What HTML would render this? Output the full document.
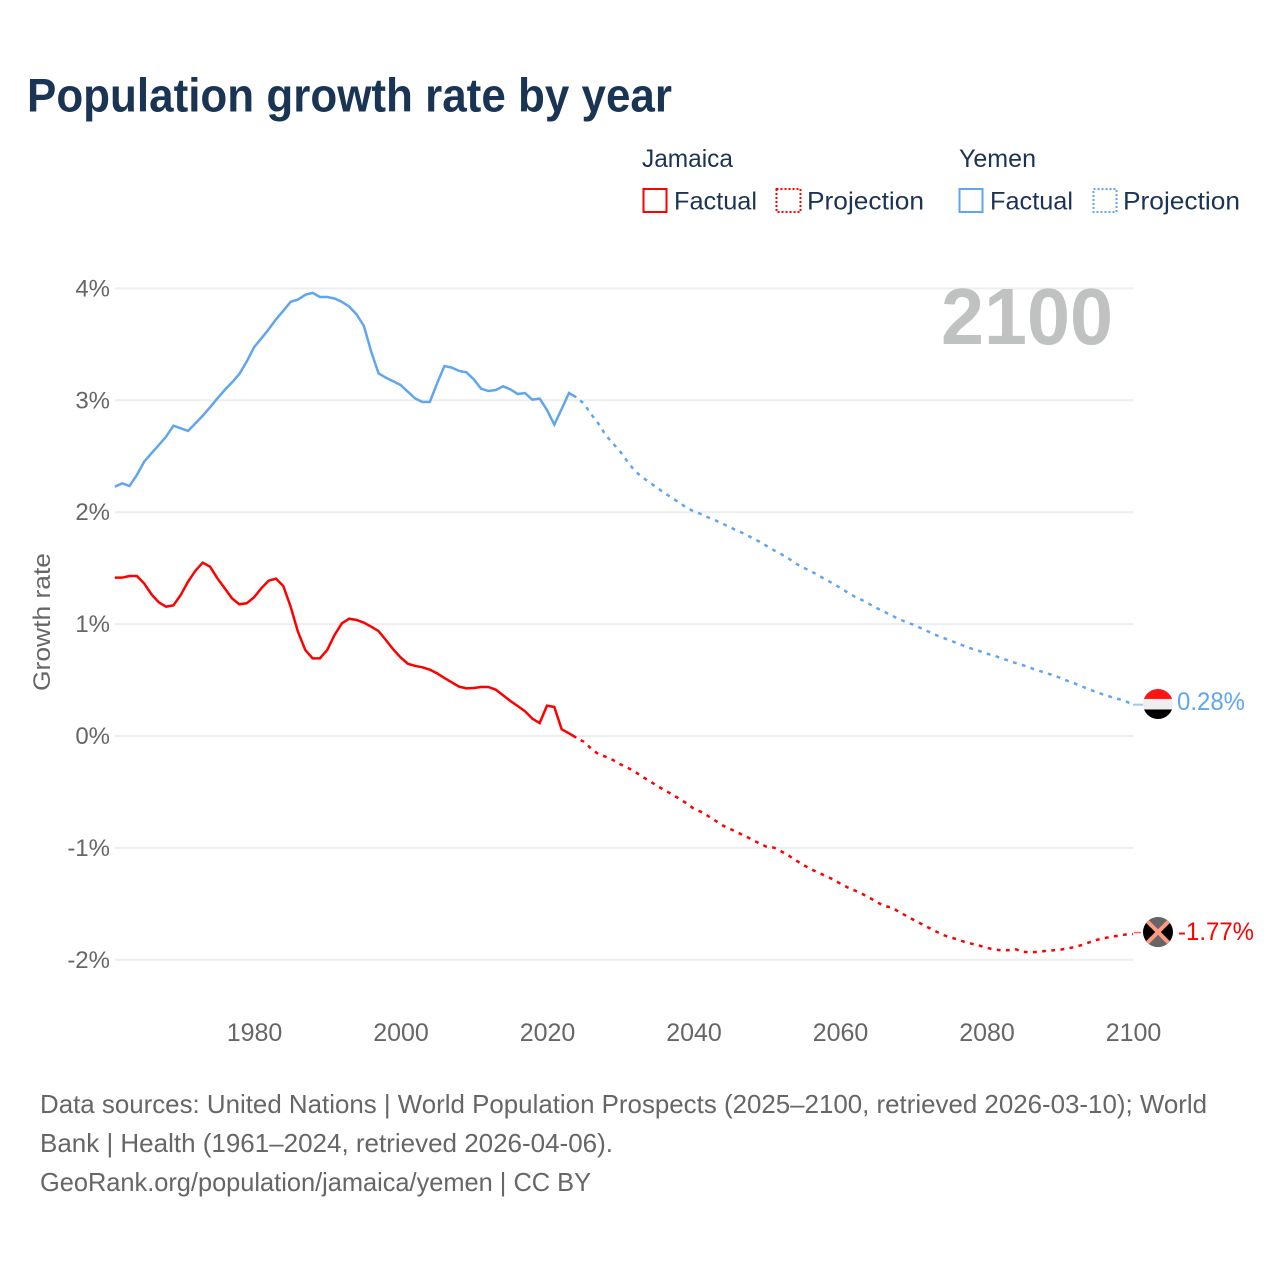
<!DOCTYPE html>
<html lang="en">
<head>
<meta charset="utf-8">
<title>Population growth rate by year</title>
<style>
  html, body { margin: 0; padding: 0; background: #fff; }
  svg { display: block; font-family: "Liberation Sans", sans-serif; }
</style>
</head>
<body>
<svg id="chart" xmlns="http://www.w3.org/2000/svg" width="1280" height="1280" viewBox="0 0 1280 1280">
  <defs>
    <clipPath id="flag-clip"><circle cx="0" cy="0" r="15"></circle></clipPath>
  </defs>
  <rect x="0" y="0" width="1280" height="1280" fill="#ffffff"></rect>
  <text x="27" y="111.5" font-size="47" font-weight="700" fill="#1a3454" textLength="645" lengthAdjust="spacingAndGlyphs">Population growth rate by year</text>

  <g font-size="25" fill="#1c3354">
    <text x="642" y="167" textLength="91" lengthAdjust="spacingAndGlyphs">Jamaica</text>
    <text x="959" y="167" textLength="77" lengthAdjust="spacingAndGlyphs">Yemen</text>
    <rect x="643.5" y="189" width="23" height="23" fill="none" stroke="#ff0000" stroke-width="2"></rect>
    <text x="674" y="209.5" textLength="83" lengthAdjust="spacingAndGlyphs">Factual</text>
    <rect x="776.5" y="189" width="24" height="23" fill="none" stroke="#ff0000" stroke-width="2" stroke-dasharray="2 2"></rect>
    <text x="807" y="209.5" textLength="117" lengthAdjust="spacingAndGlyphs">Projection</text>
    <rect x="959.5" y="189" width="23" height="23" fill="none" stroke="#5fa6ee" stroke-width="2"></rect>
    <text x="990" y="209.5" textLength="83" lengthAdjust="spacingAndGlyphs">Factual</text>
    <rect x="1093.5" y="189" width="23" height="23" fill="none" stroke="#5fa6ee" stroke-width="2" stroke-dasharray="2 2"></rect>
    <text x="1123" y="209.5" textLength="117" lengthAdjust="spacingAndGlyphs">Projection</text>
  </g>

  <g id="grid"></g>
  <g id="y-axis"></g>
  <g id="x-axis"></g>
  <text transform="translate(50,622) rotate(-90)" text-anchor="middle" font-size="24" fill="#666666" textLength="138" lengthAdjust="spacingAndGlyphs">Growth rate</text>
  <text x="941" y="344" font-size="80" font-weight="700" fill="#c0c2c1" textLength="172" lengthAdjust="spacingAndGlyphs">2100</text>

  <g id="series"></g>

  <g id="flag-yemen">
    <g clip-path="url(#flag-clip)">
      <rect x="-15" y="-15" width="30" height="10" fill="#ff1414"></rect>
      <rect x="-15" y="-5" width="30" height="10.5" fill="#eeeeee"></rect>
      <rect x="-15" y="5.5" width="30" height="10" fill="#000000"></rect>
    </g>
  </g>
  <g id="flag-jamaica">
    <g clip-path="url(#flag-clip)">
      <rect x="-15" y="-15" width="30" height="30" fill="#000000"></rect>
      <polygon points="-15,-15 15,-15 0,0" fill="#666666"></polygon>
      <polygon points="-15,15 15,15 0,0" fill="#666666"></polygon>
      <line x1="-15" y1="-15" x2="15" y2="15" stroke="#ff9a82" stroke-width="4"></line>
      <line x1="-15" y1="15" x2="15" y2="-15" stroke="#ff9a82" stroke-width="4"></line>
    </g>
  </g>
  <text id="label-yemen" x="1177" font-size="25" fill="#5fa6ee" textLength="68" lengthAdjust="spacingAndGlyphs"></text>
  <text id="label-jamaica" x="1178" font-size="25" fill="#ff0000" textLength="76" lengthAdjust="spacingAndGlyphs"></text>

  <g font-size="26" fill="#666666">
    <text x="40" y="1113" textLength="1167" lengthAdjust="spacingAndGlyphs">Data sources: United Nations | World Population Prospects (2025–2100, retrieved 2026-03-10); World</text>
    <text x="40" y="1152" textLength="573" lengthAdjust="spacingAndGlyphs">Bank | Health (1961–2024, retrieved 2026-04-06).</text>
    <text x="40" y="1191" textLength="551" lengthAdjust="spacingAndGlyphs">GeoRank.org/population/jamaica/yemen | CC BY</text>
  </g>
</svg>

<script>
const yTickValues = [4, 3, 2, 1, 0, -1, -2];
const yTickLabels = ['4%', '3%', '2%', '1%', '0%', '-1%', '-2%'];
const xTickYears = [1980, 2000, 2020, 2040, 2060, 2080, 2100];

const factualYears = [1961,1962,1963,1964,1965,1966,1967,1968,1969,1970,1971,1972,1973,1974,1975,1976,1977,1978,1979,1980,1981,1982,1983,1984,1985,1986,1987,1988,1989,1990,1991,1992,1993,1994,1995,1996,1997,1998,1999,2000,2001,2002,2003,2004,2005,2006,2007,2008,2009,2010,2011,2012,2013,2014,2015,2016,2017,2018,2019,2020,2021,2022,2023,2024];
const projectionYears = [2024,2025,2026,2027,2028,2029,2030,2031,2032,2033,2034,2035,2036,2037,2038,2039,2040,2041,2042,2043,2044,2045,2046,2047,2048,2049,2050,2051,2052,2053,2054,2055,2056,2057,2058,2059,2060,2061,2062,2063,2064,2065,2066,2067,2068,2069,2070,2071,2072,2073,2074,2075,2076,2077,2078,2079,2080,2081,2082,2083,2084,2085,2086,2087,2088,2089,2090,2091,2092,2093,2094,2095,2096,2097,2098,2099,2100];

const yemenFactual = [2.228,2.258,2.234,2.332,2.451,2.526,2.60,2.675,2.773,2.75,2.726,2.794,2.862,2.937,3.017,3.092,3.16,3.235,3.345,3.473,3.553,3.634,3.723,3.80,3.88,3.90,3.943,3.96,3.923,3.923,3.91,3.88,3.837,3.768,3.664,3.435,3.241,3.202,3.17,3.137,3.077,3.017,2.985,2.985,3.152,3.306,3.292,3.262,3.25,3.187,3.104,3.083,3.092,3.125,3.098,3.056,3.065,3.006,3.015,2.913,2.782,2.922,3.065,3.027];
const yemenProjection = [3.027,2.973,2.878,2.794,2.69,2.615,2.541,2.451,2.368,2.312,2.267,2.219,2.174,2.13,2.088,2.043,2.008,1.984,1.954,1.927,1.897,1.864,1.835,1.805,1.77,1.737,1.698,1.659,1.624,1.585,1.54,1.504,1.475,1.436,1.40,1.364,1.325,1.284,1.245,1.215,1.18,1.144,1.111,1.079,1.046,1.019,0.995,0.965,0.935,0.905,0.879,0.855,0.828,0.804,0.78,0.76,0.736,0.718,0.697,0.673,0.652,0.632,0.608,0.587,0.566,0.545,0.521,0.494,0.471,0.444,0.417,0.393,0.369,0.349,0.331,0.31,0.28];

const jamaicaFactual = [1.415,1.415,1.43,1.43,1.364,1.266,1.195,1.156,1.168,1.26,1.379,1.477,1.549,1.513,1.409,1.32,1.23,1.177,1.186,1.239,1.32,1.388,1.406,1.34,1.156,0.932,0.769,0.694,0.694,0.769,0.903,1.007,1.048,1.037,1.013,0.977,0.938,0.858,0.775,0.703,0.646,0.626,0.614,0.593,0.56,0.518,0.48,0.441,0.426,0.429,0.438,0.438,0.414,0.364,0.313,0.268,0.221,0.155,0.116,0.271,0.259,0.06,0.024,-0.015];
const jamaicaProjection = [-0.015,-0.051,-0.11,-0.161,-0.185,-0.214,-0.253,-0.283,-0.319,-0.364,-0.402,-0.444,-0.483,-0.518,-0.559,-0.599,-0.648,-0.677,-0.715,-0.757,-0.80,-0.831,-0.861,-0.894,-0.925,-0.961,-0.99,-0.998,-1.032,-1.069,-1.112,-1.153,-1.188,-1.221,-1.248,-1.281,-1.317,-1.352,-1.38,-1.41,-1.444,-1.483,-1.519,-1.531,-1.569,-1.606,-1.641,-1.676,-1.71,-1.743,-1.776,-1.80,-1.816,-1.84,-1.857,-1.873,-1.893,-1.907,-1.915,-1.914,-1.906,-1.929,-1.933,-1.93,-1.921,-1.916,-1.91,-1.90,-1.886,-1.868,-1.845,-1.823,-1.807,-1.795,-1.785,-1.774,-1.77];

const NS = 'http://www.w3.org/2000/svg';
function xScale(year) { return 1133 - (2100 - year) * 7.325; }
function yScale(value) { return 736 - value * 111.9; }

const gridLayer = document.getElementById('grid');
const yAxisLayer = document.getElementById('y-axis');
yTickValues.forEach(function (value, i) {
  const line = document.createElementNS(NS, 'line');
  
  
  line.setAttribute('x1', 115);
  line.setAttribute('x2', 1133.5);
  line.setAttribute('y1', yScale(value));
  line.setAttribute('y2', yScale(value));
  line.setAttribute('stroke', '#eeeeee');
  line.setAttribute('stroke-width', 2);
  gridLayer.appendChild(line);

  const label = document.createElementNS(NS, 'text');
  
  
  label.setAttribute('x', 110);
  label.setAttribute('y', yScale(value) + 8);
  label.setAttribute('text-anchor', 'end');
  label.setAttribute('font-size', 24);
  label.setAttribute('fill', '#666666');
  label.textContent = yTickLabels[i];
  yAxisLayer.appendChild(label);
});

const xAxisLayer = document.getElementById('x-axis');
xTickYears.forEach(function (year) {
  const label = document.createElementNS(NS, 'text');
  
  
  label.setAttribute('x', xScale(year) + 0.5);
  label.setAttribute('y', 1041);
  label.setAttribute('text-anchor', 'middle');
  label.setAttribute('font-size', 25);
  label.setAttribute('fill', '#666666');
  label.textContent = String(year);
  xAxisLayer.appendChild(label);
});

function pathFor(years, values) {
  return values.map(function (v, i) {
    return (i ? 'L' : 'M') + xScale(years[i]).toFixed(2) + ' ' + yScale(v).toFixed(2);
  }).join(' ');
}

const seriesLayer = document.getElementById('series');

const jamaicaFactualLine = document.createElementNS(NS, 'path');


jamaicaFactualLine.setAttribute('d', pathFor(factualYears, jamaicaFactual));
jamaicaFactualLine.setAttribute('fill', 'none');
jamaicaFactualLine.setAttribute('stroke', '#ff0000');
jamaicaFactualLine.setAttribute('stroke-width', 2.5);
seriesLayer.appendChild(jamaicaFactualLine);

const jamaicaProjectionLine = document.createElementNS(NS, 'path');


jamaicaProjectionLine.setAttribute('d', pathFor(projectionYears, jamaicaProjection));
jamaicaProjectionLine.setAttribute('fill', 'none');
jamaicaProjectionLine.setAttribute('stroke', '#ff0000');
jamaicaProjectionLine.setAttribute('stroke-width', 2.5);
jamaicaProjectionLine.setAttribute('stroke-dasharray', '3.8 5.4');
jamaicaProjectionLine.setAttribute('stroke-dashoffset', '-5');
seriesLayer.appendChild(jamaicaProjectionLine);

const yemenFactualLine = document.createElementNS(NS, 'path');


yemenFactualLine.setAttribute('d', pathFor(factualYears, yemenFactual));
yemenFactualLine.setAttribute('fill', 'none');
yemenFactualLine.setAttribute('stroke', '#5fa6ee');
yemenFactualLine.setAttribute('stroke-width', 2.5);
seriesLayer.appendChild(yemenFactualLine);

const yemenProjectionLine = document.createElementNS(NS, 'path');


yemenProjectionLine.setAttribute('d', pathFor(projectionYears, yemenProjection));
yemenProjectionLine.setAttribute('fill', 'none');
yemenProjectionLine.setAttribute('stroke', '#5fa6ee');
yemenProjectionLine.setAttribute('stroke-width', 2.5);
yemenProjectionLine.setAttribute('stroke-dasharray', '3.8 5.4');
yemenProjectionLine.setAttribute('stroke-dashoffset', '-5');
seriesLayer.appendChild(yemenProjectionLine);

const yemenEnd = yemenProjection[yemenProjection.length - 1];
const jamaicaEnd = jamaicaProjection[jamaicaProjection.length - 1];

const yemenConnector = document.createElementNS(NS, 'line');


yemenConnector.setAttribute('x1', xScale(2100));
yemenConnector.setAttribute('x2', xScale(2100) + 10);
yemenConnector.setAttribute('y1', yScale(yemenEnd));
yemenConnector.setAttribute('y2', yScale(yemenEnd));
yemenConnector.setAttribute('stroke', '#9cc8f5');
yemenConnector.setAttribute('stroke-width', 2);
seriesLayer.appendChild(yemenConnector);

const jamaicaConnector = document.createElementNS(NS, 'line');


jamaicaConnector.setAttribute('x1', xScale(2100) + 1);
jamaicaConnector.setAttribute('x2', xScale(2100) + 8);
jamaicaConnector.setAttribute('y1', yScale(jamaicaEnd) - 1.5);
jamaicaConnector.setAttribute('y2', yScale(jamaicaEnd) - 1.5);
jamaicaConnector.setAttribute('stroke', '#ff6060');
jamaicaConnector.setAttribute('stroke-width', 1.5);
seriesLayer.appendChild(jamaicaConnector);

document.getElementById('flag-yemen').setAttribute('transform', 'translate(1158,' + (yScale(yemenEnd) - 0.7) + ')');
document.getElementById('flag-jamaica').setAttribute('transform', 'translate(1158,' + (yScale(jamaicaEnd) - 2) + ')');

const yemenLabel = document.getElementById('label-yemen');
yemenLabel.setAttribute('y', yScale(yemenEnd) + 5.5);
yemenLabel.textContent = yemenEnd.toFixed(2) + '%';

const jamaicaLabel = document.getElementById('label-jamaica');
jamaicaLabel.setAttribute('y', yScale(jamaicaEnd) + 6);
jamaicaLabel.textContent = jamaicaEnd.toFixed(2) + '%';
</script>
</body>
</html>
